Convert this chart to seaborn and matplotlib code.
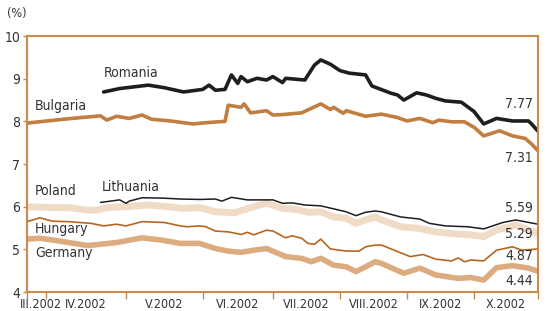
import numpy as np
import pandas as pd
import matplotlib
matplotlib.use('Agg')
import matplotlib.pyplot as plt
import seaborn as sns

# trading-day index (0 = mid March 2002, 160 = end of October 2002)
month_edges = [0, 6, 31, 55, 77, 98, 119, 140, 160]
month_labels = ['III.2002', 'IV.2002', 'V.2002', 'VI.2002', 'VII.2002',
                'VIII.2002', 'IX.2002', 'X.2002']
month_label_pos = [4.5, 18.5, 43, 66, 87.5, 108.5, 129.5, 150]

romania_day = [24, 29, 38, 43, 49, 55, 57, 59, 62, 64, 66, 67, 69, 72, 75, 77, 80,
               81, 87, 90, 92, 95, 98, 101, 106, 108, 114, 116, 118, 122, 125, 128,
               131, 136, 140, 143, 147, 152, 157, 158, 160]
romania_val = [8.69, 8.77, 8.85, 8.79, 8.69, 8.75, 8.85, 8.73, 8.75, 9.09, 8.89, 9.05,
               8.93, 9.01, 8.97, 9.05, 8.91, 9.01, 8.97, 9.32, 9.44, 9.34, 9.19, 9.13,
               9.09, 8.83, 8.66, 8.62, 8.50, 8.67, 8.62, 8.54, 8.48, 8.45, 8.23, 7.94,
               8.07, 8.01, 8.01, 7.94, 7.77]

bulgaria_day = [0, 10, 17, 23, 25, 28, 32, 36, 39, 45, 52, 56, 62, 63, 67, 68, 70, 75,
                77, 80, 86, 92, 95, 96, 99, 100, 106, 111, 116, 119, 123, 127, 129,
                133, 137, 140, 143, 148, 152, 156, 158, 160]
bulgaria_val = [7.96, 8.04, 8.09, 8.13, 8.03, 8.12, 8.07, 8.15, 8.05, 8.01, 7.94, 7.97,
                8.00, 8.38, 8.33, 8.41, 8.20, 8.25, 8.15, 8.16, 8.20, 8.41, 8.28, 8.33,
                8.19, 8.25, 8.12, 8.17, 8.09, 8.01, 8.07, 7.97, 8.03, 7.99, 7.99, 7.86,
                7.66, 7.78, 7.66, 7.60, 7.47, 7.31]

lithuania_day = [23, 29, 31, 32, 36, 43, 48, 54, 59, 61, 64, 69, 77, 80, 83, 87, 92,
                 96, 100, 103, 106, 109, 111, 117, 123, 126, 131, 138, 143, 149, 153, 160]
lithuania_val = [6.10, 6.16, 6.08, 6.13, 6.21, 6.20, 6.18, 6.17, 6.18, 6.13, 6.22, 6.16,
                 6.16, 6.08, 6.09, 6.04, 6.02, 5.95, 5.88, 5.79, 5.87, 5.90, 5.88, 5.76,
                 5.71, 5.61, 5.55, 5.53, 5.48, 5.63, 5.69, 5.59]

poland_day = [0, 8, 13, 19, 22, 25, 31, 38, 44, 49, 54, 59, 65, 71, 75, 80, 84, 88, 92,
              96, 100, 103, 106, 109, 111, 117, 123, 128, 133, 139, 143, 147, 151, 153,
              157, 160]
poland_val = [6.00, 5.98, 5.98, 5.92, 5.92, 5.98, 6.00, 6.04, 6.00, 5.96, 5.98, 5.88,
              5.86, 6.00, 6.08, 5.96, 5.94, 5.87, 5.88, 5.76, 5.73, 5.61, 5.69, 5.76,
              5.69, 5.53, 5.49, 5.41, 5.37, 5.34, 5.30, 5.45, 5.53, 5.57, 5.45, 5.37]

hungary_day = [0, 4, 8, 13, 20, 24, 28, 31, 36, 43, 48, 50, 54, 56, 59, 63, 67, 69, 71,
               75, 77, 81, 83, 86, 88, 90, 92, 95, 100, 104, 106, 109, 111, 120, 124,
               128, 133, 135, 137, 139, 143, 147, 152, 155, 160]
hungary_val = [5.65, 5.74, 5.66, 5.65, 5.61, 5.55, 5.59, 5.55, 5.65, 5.63, 5.55, 5.53,
               5.55, 5.53, 5.43, 5.41, 5.35, 5.40, 5.34, 5.45, 5.43, 5.27, 5.32, 5.26,
               5.14, 5.12, 5.24, 5.01, 4.96, 4.96, 5.06, 5.10, 5.10, 4.83, 4.88, 4.77,
               4.73, 4.80, 4.71, 4.75, 4.73, 4.98, 5.06, 4.98, 5.01]

germany_day = [0, 4, 8, 13, 19, 23, 28, 31, 36, 42, 48, 54, 59, 63, 67, 71, 75, 81, 86,
               89, 92, 96, 100, 103, 106, 109, 111, 118, 123, 128, 135, 139, 143, 147,
               152, 157, 160]
germany_val = [5.24, 5.26, 5.22, 5.16, 5.09, 5.12, 5.16, 5.20, 5.27, 5.22, 5.14, 5.14,
               5.02, 4.96, 4.93, 4.98, 5.02, 4.83, 4.79, 4.71, 4.79, 4.63, 4.59, 4.48,
               4.59, 4.71, 4.67, 4.44, 4.56, 4.40, 4.32, 4.34, 4.28, 4.57, 4.62, 4.56,
               4.49]

end_labels = ['7.77', '7.31', '5.59', '5.29', '4.87', '4.44']
end_label_y = [8.41, 7.14, 5.97, 5.36, 4.84, 4.26]

sns.set_style('white')
plt.rcParams['font.family'] = ['DejaVu Sans']
plt.rcParams['font.stretch'] = 'condensed'

frame_col = '#c98a4e'
text_col = '#333333'

fig = plt.figure(figsize=(5.47, 3.11), dpi=100)
ax = fig.add_axes([0.0494, 0.061, 0.9341, 0.823])

series = [
    (poland_day, poland_val, '#f0dcc6', 5.0),
    (germany_day, germany_val, '#dcab80', 4.0),
    (hungary_day, hungary_val, '#b8661f', 1.2),
    (lithuania_day, lithuania_val, '#1e1e1e', 1.1),
    (bulgaria_day, bulgaria_val, '#c27d40', 2.6),
    (romania_day, romania_val, '#1e1e1e', 2.6),
]
for d, v, c, lw in series:
    df = pd.DataFrame({'day': d, 'val': v})
    sns.lineplot(data=df, x='day', y='val', color=c, linewidth=lw, ax=ax)

ax.set_xlim(0, 160)
ax.set_ylim(4, 10)
ax.set_xlabel('')
ax.set_ylabel('')

for s in ax.spines.values():
    s.set_color(frame_col)
    s.set_linewidth(1.5)

ax.set_yticks([4, 5, 6, 7, 8, 9, 10])
ax.set_yticklabels(['4', '5', '6', '7', '8', '9', '10'])
ax.tick_params(axis='y', length=3, width=1, color=frame_col, labelcolor=text_col,
               labelsize=10, pad=2, left=True)

ax.set_xticks(month_edges)
ax.set_xticklabels([])
ax.set_xticks(month_label_pos, minor=True)
ax.set_xticklabels(month_labels, minor=True)
ax.tick_params(axis='x', which='major', length=5, width=1, color=frame_col, bottom=True)
ax.tick_params(axis='x', which='minor', length=0, labelcolor=text_col, labelsize=9, pad=4)

# series names
names = [('Romania', 24, 9.13), ('Bulgaria', 2.5, 8.36), ('Poland', 2.5, 6.37),
         ('Lithuania', 23.5, 6.46), ('Hungary', 2.5, 5.48), ('Germany', 2.5, 4.91)]
for n, x, y in names:
    ax.text(x, y, n, fontsize=10, color=text_col, va='center', ha='left')

for lab, y in zip(end_labels, end_label_y):
    ax.text(158.5, y, lab, fontsize=10, color=text_col, va='center', ha='right')

fig.text(0.013, 0.955, '(%)', fontsize=9, color=text_col, va='center', ha='left')

fig.savefig('out.png', dpi=100)
